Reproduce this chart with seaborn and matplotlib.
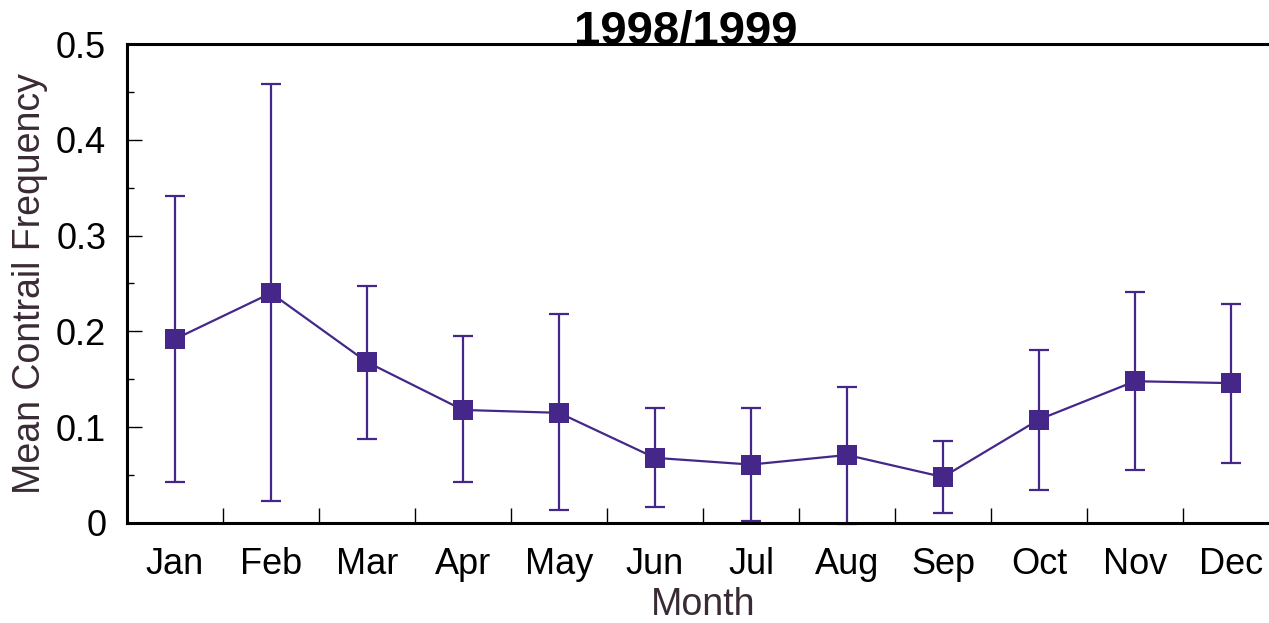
import numpy as np
import pandas as pd
import matplotlib
matplotlib.use("Agg")
import matplotlib.pyplot as plt
import seaborn as sns

# ==========================================
# Data
# ==========================================
months = ["Jan", "Feb", "Mar", "Apr", "May", "Jun",
          "Jul", "Aug", "Sep", "Oct", "Nov", "Dec"]
mean_freq = [0.192, 0.240, 0.168, 0.118, 0.115, 0.068,
             0.061, 0.071, 0.048, 0.108, 0.148, 0.146]
err_low = [0.043, 0.023, 0.088, 0.043, 0.014, 0.017,
           0.002, -0.001, 0.010, 0.034, 0.055, 0.063]
err_high = [0.341, 0.458, 0.247, 0.195, 0.218, 0.120,
            0.120, 0.142, 0.086, 0.181, 0.241, 0.229]
y_ticks = [0, 0.1, 0.2, 0.3, 0.4, 0.5]
y_tick_labels = ["0", "0.1", "0.2", "0.3", "0.4", "0.5"]

purple = "#45278a"
label_color = "#3a2a35"

sns.set_style("ticks")
plt.rcParams["font.family"] = ["Liberation Sans", "DejaVu Sans"]
plt.rcParams["text.color"] = "black"
plt.rcParams["xtick.color"] = "black"
plt.rcParams["ytick.color"] = "black"

df = pd.DataFrame({"pos": np.arange(len(months)), "mean": mean_freq,
                   "low": err_low, "high": err_high})

W, H = 1269, 623
fig = plt.figure(figsize=(W / 100, H / 100), dpi=100)
ax = fig.add_axes([127 / W, (H - 523) / H, (1279 - 127) / W, (523 - 44) / H])

# error bars from the read bounds
yerr = [df["mean"] - df["low"], df["high"] - df["mean"]]
ax.errorbar(df["pos"], df["mean"], yerr=yerr, fmt="none", ecolor=purple,
            elinewidth=1.6, capsize=7.5, capthick=1.6, zorder=2, clip_on=False)

# connecting line with square markers
sns.lineplot(data=df, x="pos", y="mean", ax=ax, color=purple, linewidth=1.6,
             marker="s", markersize=15, markeredgewidth=0, sort=False, zorder=3)

ax.set_xlim(-0.5, len(months) - 0.5)
ax.set_ylim(0, 0.5)

ax.set_xticks(df["pos"])
ax.set_xticklabels(months, fontsize=26)
ax.set_xticks(np.arange(len(months) - 1) + 0.5, minor=True)
ax.tick_params(axis="x", which="major", length=0, pad=17)
ax.tick_params(axis="x", which="minor", direction="in", length=11, width=1.0)

ax.set_yticks(y_ticks)
ax.set_yticklabels(y_tick_labels, fontsize=26)
ax.set_yticks(np.arange(0.05, 0.5, 0.1), minor=True)
ax.tick_params(axis="y", which="major", direction="in", length=11, width=1.0,
               pad=15)
ax.tick_params(axis="y", which="minor", direction="in", length=5, width=1.0)

ax.set_xlabel("Month", fontsize=27, color=label_color, labelpad=4)
ax.set_ylabel("Mean Contrail Frequency", fontsize=27, color=label_color,
              labelpad=6)

for side in ["left", "bottom", "top"]:
    ax.spines[side].set_linewidth(2.2)
    ax.spines[side].set_color("black")
ax.spines["right"].set_visible(False)

fig.text(686 / W, (H - 43) / H, "1998/1999", fontsize=34, fontweight="bold",
         color="black", ha="center", va="baseline", zorder=5)

fig.savefig("out.png", dpi=100)
